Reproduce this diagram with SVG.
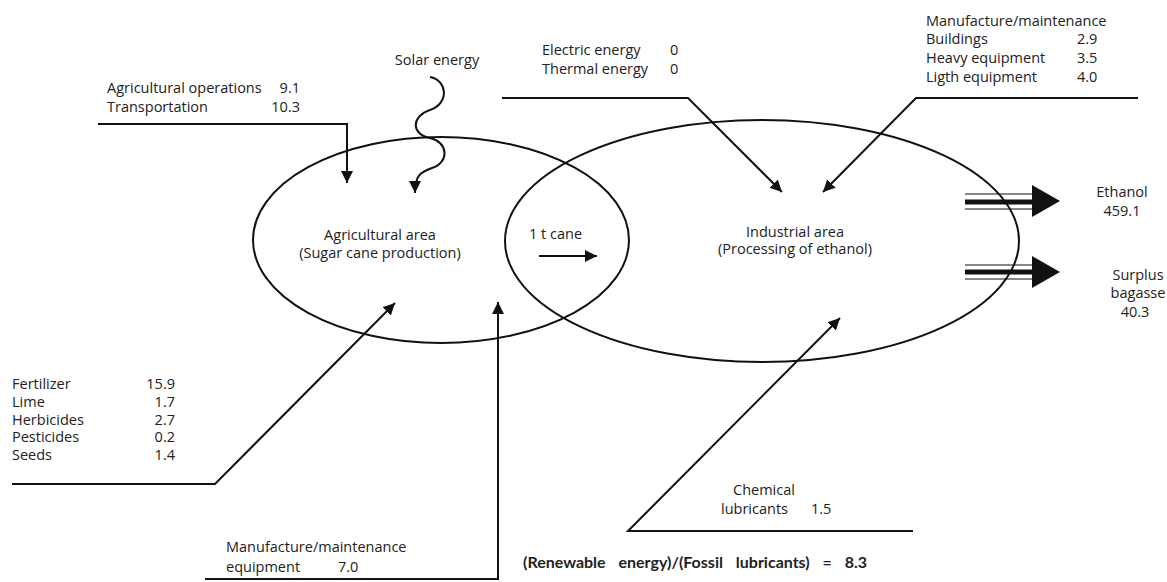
<svg xmlns="http://www.w3.org/2000/svg" width="1167" height="582" viewBox="0 0 1167 582">
<style>
text{font-family:"Open Sans",Lato,"Liberation Sans",sans-serif;font-size:14.5px;fill:#222}
.r{text-anchor:end}
.m{text-anchor:middle}
.ln{fill:none;stroke:#111;stroke-width:2}
.ell{fill:none;stroke:#111;stroke-width:2}
.big{font-family:Lato,"Open Sans",sans-serif;font-weight:bold;font-size:16px;word-spacing:9px}
</style>
<defs>
<marker id="ah" markerUnits="userSpaceOnUse" markerWidth="13" markerHeight="12" refX="12" refY="6" orient="auto">
<path d="M0,0 L12,6 L0,12 z" fill="#111"/>
</marker>
</defs>
<g id="agricultural-area">
<ellipse class="ell" cx="441" cy="240" rx="188" ry="103"/>
<text class="m" x="380" y="240">Agricultural area</text>
<text class="m" x="380" y="258">(Sugar cane production)</text>
</g>
<g id="industrial-area">
<ellipse class="ell" cx="762" cy="241" rx="257" ry="121"/>
<text class="m" x="795" y="237">Industrial area</text>
<text class="m" x="795" y="254">(Processing of ethanol)</text>
</g>
<g id="cane-label">
<text x="529" y="239">1 t cane</text>
</g>
<g id="agri-operations">
<text x="107" y="93">Agricultural operations</text>
<text class="r" x="300" y="93">9.1</text>
<text x="107" y="112">Transportation</text>
<text class="r" x="300" y="112">10.3</text>
</g>
<g id="solar">
<text class="m" x="437" y="65">Solar energy</text>
</g>
<g id="energy-inputs">
<text x="542" y="55">Electric energy</text>
<text x="670" y="55">0</text>
<text x="542" y="74">Thermal energy</text>
<text x="670" y="74">0</text>
</g>
<g id="industrial-maintenance">
<text x="926" y="26">Manufacture/maintenance</text>
<text x="926" y="44">Buildings</text>
<text x="1077" y="44">2.9</text>
<text x="926" y="63">Heavy equipment</text>
<text x="1077" y="63">3.5</text>
<text x="926" y="82">Ligth equipment</text>
<text x="1077" y="82">4.0</text>
</g>
<g id="ethanol">
<text class="m" x="1122" y="197">Ethanol</text>
<text class="m" x="1122" y="216">459.1</text>
</g>
<g id="bagasse">
<text class="m" x="1138" y="280">Surplus</text>
<text class="m" x="1138" y="298">bagasse</text>
<text class="m" x="1135" y="317">40.3</text>
</g>
<g id="agri-inputs">
<text x="12" y="389">Fertilizer</text>
<text class="r" x="175" y="389">15.9</text>
<text x="12" y="407">Lime</text>
<text class="r" x="175" y="407">1.7</text>
<text x="12" y="425">Herbicides</text>
<text class="r" x="175" y="425">2.7</text>
<text x="12" y="442">Pesticides</text>
<text class="r" x="175" y="442">0.2</text>
<text x="12" y="460">Seeds</text>
<text class="r" x="175" y="460">1.4</text>
</g>
<g id="agri-maintenance">
<text x="226" y="552">Manufacture/maintenance</text>
<text x="226" y="572">equipment</text>
<text x="338" y="572">7.0</text>
</g>
<g id="chemical">
<text x="733" y="495">Chemical</text>
<text x="721" y="514">lubricants</text>
<text x="811" y="514">1.5</text>
</g>
<g id="ratio">
<text class="big" x="523" y="568">(Renewable energy)/(Fossil lubricants) = 8.3</text>
</g>
<g id="connectors">
<polyline class="ln" points="98,124 347,124 347,183" marker-end="url(#ah)"/>
<path class="ln" d="M430,77 C447,80 450,103 430,110 C410,117 412,135 430,138 C448,142 450,162 432,168 C420,172 415,176 415,193" marker-end="url(#ah)"/>
<polyline class="ln" points="502,98 688,98 782,192" marker-end="url(#ah)"/>
<polyline class="ln" points="1138,98 916,98 823,192" marker-end="url(#ah)"/>
<line class="ln" x1="539" y1="256" x2="597" y2="256" marker-end="url(#ah)"/>
<polyline class="ln" points="12,484 215,484 395,303" marker-end="url(#ah)"/>
<polyline class="ln" points="205,579 498,579 498,302" marker-end="url(#ah)"/>
<polyline class="ln" points="913,531 628,531 840,318" marker-end="url(#ah)"/>
<g stroke="#111" fill="none">
<line x1="965" y1="194" x2="1033" y2="194" stroke-width="1"/>
<line x1="965" y1="202" x2="1033" y2="202" stroke-width="5"/>
<line x1="965" y1="209" x2="1033" y2="209" stroke-width="1"/>
<line x1="965" y1="265" x2="1033" y2="265" stroke-width="1"/>
<line x1="965" y1="272" x2="1033" y2="272" stroke-width="5"/>
<line x1="965" y1="279" x2="1033" y2="279" stroke-width="1"/>
</g>
<path d="M1032,185 L1060,201 L1032,217 z" fill="#111"/>
<path d="M1032,256 L1060,272 L1032,288 z" fill="#111"/>
</g>
</svg>
